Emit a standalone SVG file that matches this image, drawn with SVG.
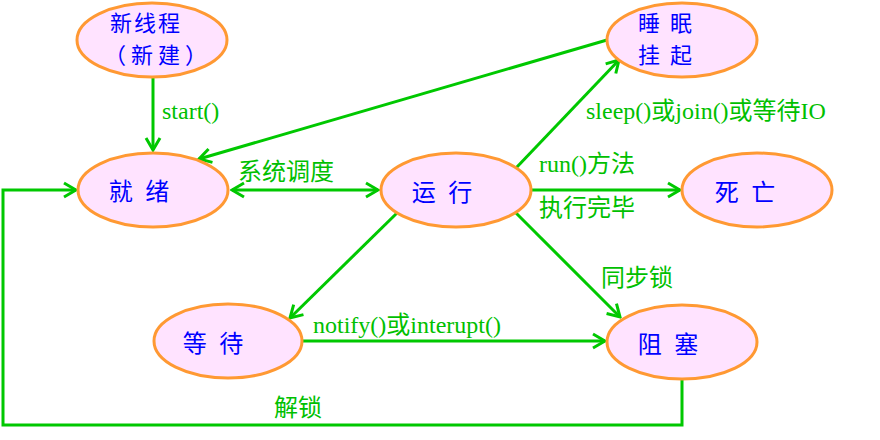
<svg xmlns="http://www.w3.org/2000/svg" width="880" height="440" viewBox="0 0 880 440">
<style>
.node ellipse{fill:#ffe3ff;stroke:#ff9933;stroke-width:3}
.node text{font-family:"Noto Sans CJK SC","Liberation Sans",sans-serif;font-size:24px;fill:#0000ff;text-anchor:middle}
.node text.two{font-size:22px}
.edges path{fill:none;stroke:#00c800;stroke-width:3}
.lbl{font-family:"Liberation Serif","Noto Sans CJK SC",serif;font-size:24px;fill:#00c000}
.lbls{font-family:"Noto Sans CJK SC","Liberation Sans",sans-serif;font-size:24px;fill:#00c000}
</style>
<defs>
<marker id="arr" viewBox="-14 -9 16 18" refX="0" refY="0" markerWidth="16" markerHeight="18" markerUnits="userSpaceOnUse" orient="auto-start-reverse">
<path d="M-12,-7 L0,0 L-12,7" fill="none" stroke="#00c800" stroke-width="3"/>
</marker>
</defs>
<rect width="880" height="440" fill="#ffffff"/>
<g class="edges" id="connectors">
<path d="M153,78 L153,150" marker-end="url(#arr)"/>
<path d="M607,40 L199,159" marker-end="url(#arr)"/>
<path d="M516,168 L619,60" marker-end="url(#arr)"/>
<path d="M232,190 L378,190" marker-start="url(#arr)" marker-end="url(#arr)"/>
<path d="M532,190 L680,190" marker-end="url(#arr)"/>
<path d="M397,213 L290,318" marker-end="url(#arr)"/>
<path d="M516,213 L620,317" marker-end="url(#arr)"/>
<path d="M302,341 L605,341" marker-end="url(#arr)"/>
<path d="M682,380 L682,425 L3,425 L3,190 L76,190" marker-end="url(#arr)"/>
</g>
<g id="labels">
<text class="lbl" x="162" y="119">start()</text>
<text class="lbl" x="586" y="119">sleep()或join()或等待IO</text>
<text class="lbls" x="238" y="180">系统调度</text>
<text class="lbl" x="539" y="172">run()方法</text>
<text class="lbls" x="539" y="216">执行完毕</text>
<text class="lbls" x="601" y="286">同步锁</text>
<text class="lbl" x="313" y="333">notify()或interupt()</text>
<text class="lbls" x="274" y="416">解锁</text>
</g>
<g class="node" id="new"><ellipse cx="152" cy="40" rx="75" ry="37"/><text class="two" x="146" y="31" letter-spacing="2">新线程</text><text class="two" x="158" y="63" letter-spacing="5">（新建）</text></g>
<g class="node" id="sleep"><ellipse cx="682" cy="40" rx="75" ry="37"/><text class="two" x="665" y="31" word-spacing="5">睡 眠</text><text class="two" x="665" y="63" word-spacing="5">挂 起</text></g>
<g class="node" id="ready"><ellipse cx="153" cy="190" rx="75" ry="37"/><text x="139" y="200" word-spacing="7">就 绪</text></g>
<g class="node" id="running"><ellipse cx="456" cy="190" rx="75" ry="37"/><text x="442" y="201" word-spacing="7">运 行</text></g>
<g class="node" id="dead"><ellipse cx="757" cy="190" rx="75" ry="37"/><text x="745" y="201" word-spacing="7">死 亡</text></g>
<g class="node" id="waiting"><ellipse cx="228" cy="341" rx="74" ry="37"/><text x="213" y="352" word-spacing="7">等 待</text></g>
<g class="node" id="blocked"><ellipse cx="682" cy="342" rx="75" ry="37"/><text x="668" y="353" word-spacing="7">阻 塞</text></g>
</svg>
